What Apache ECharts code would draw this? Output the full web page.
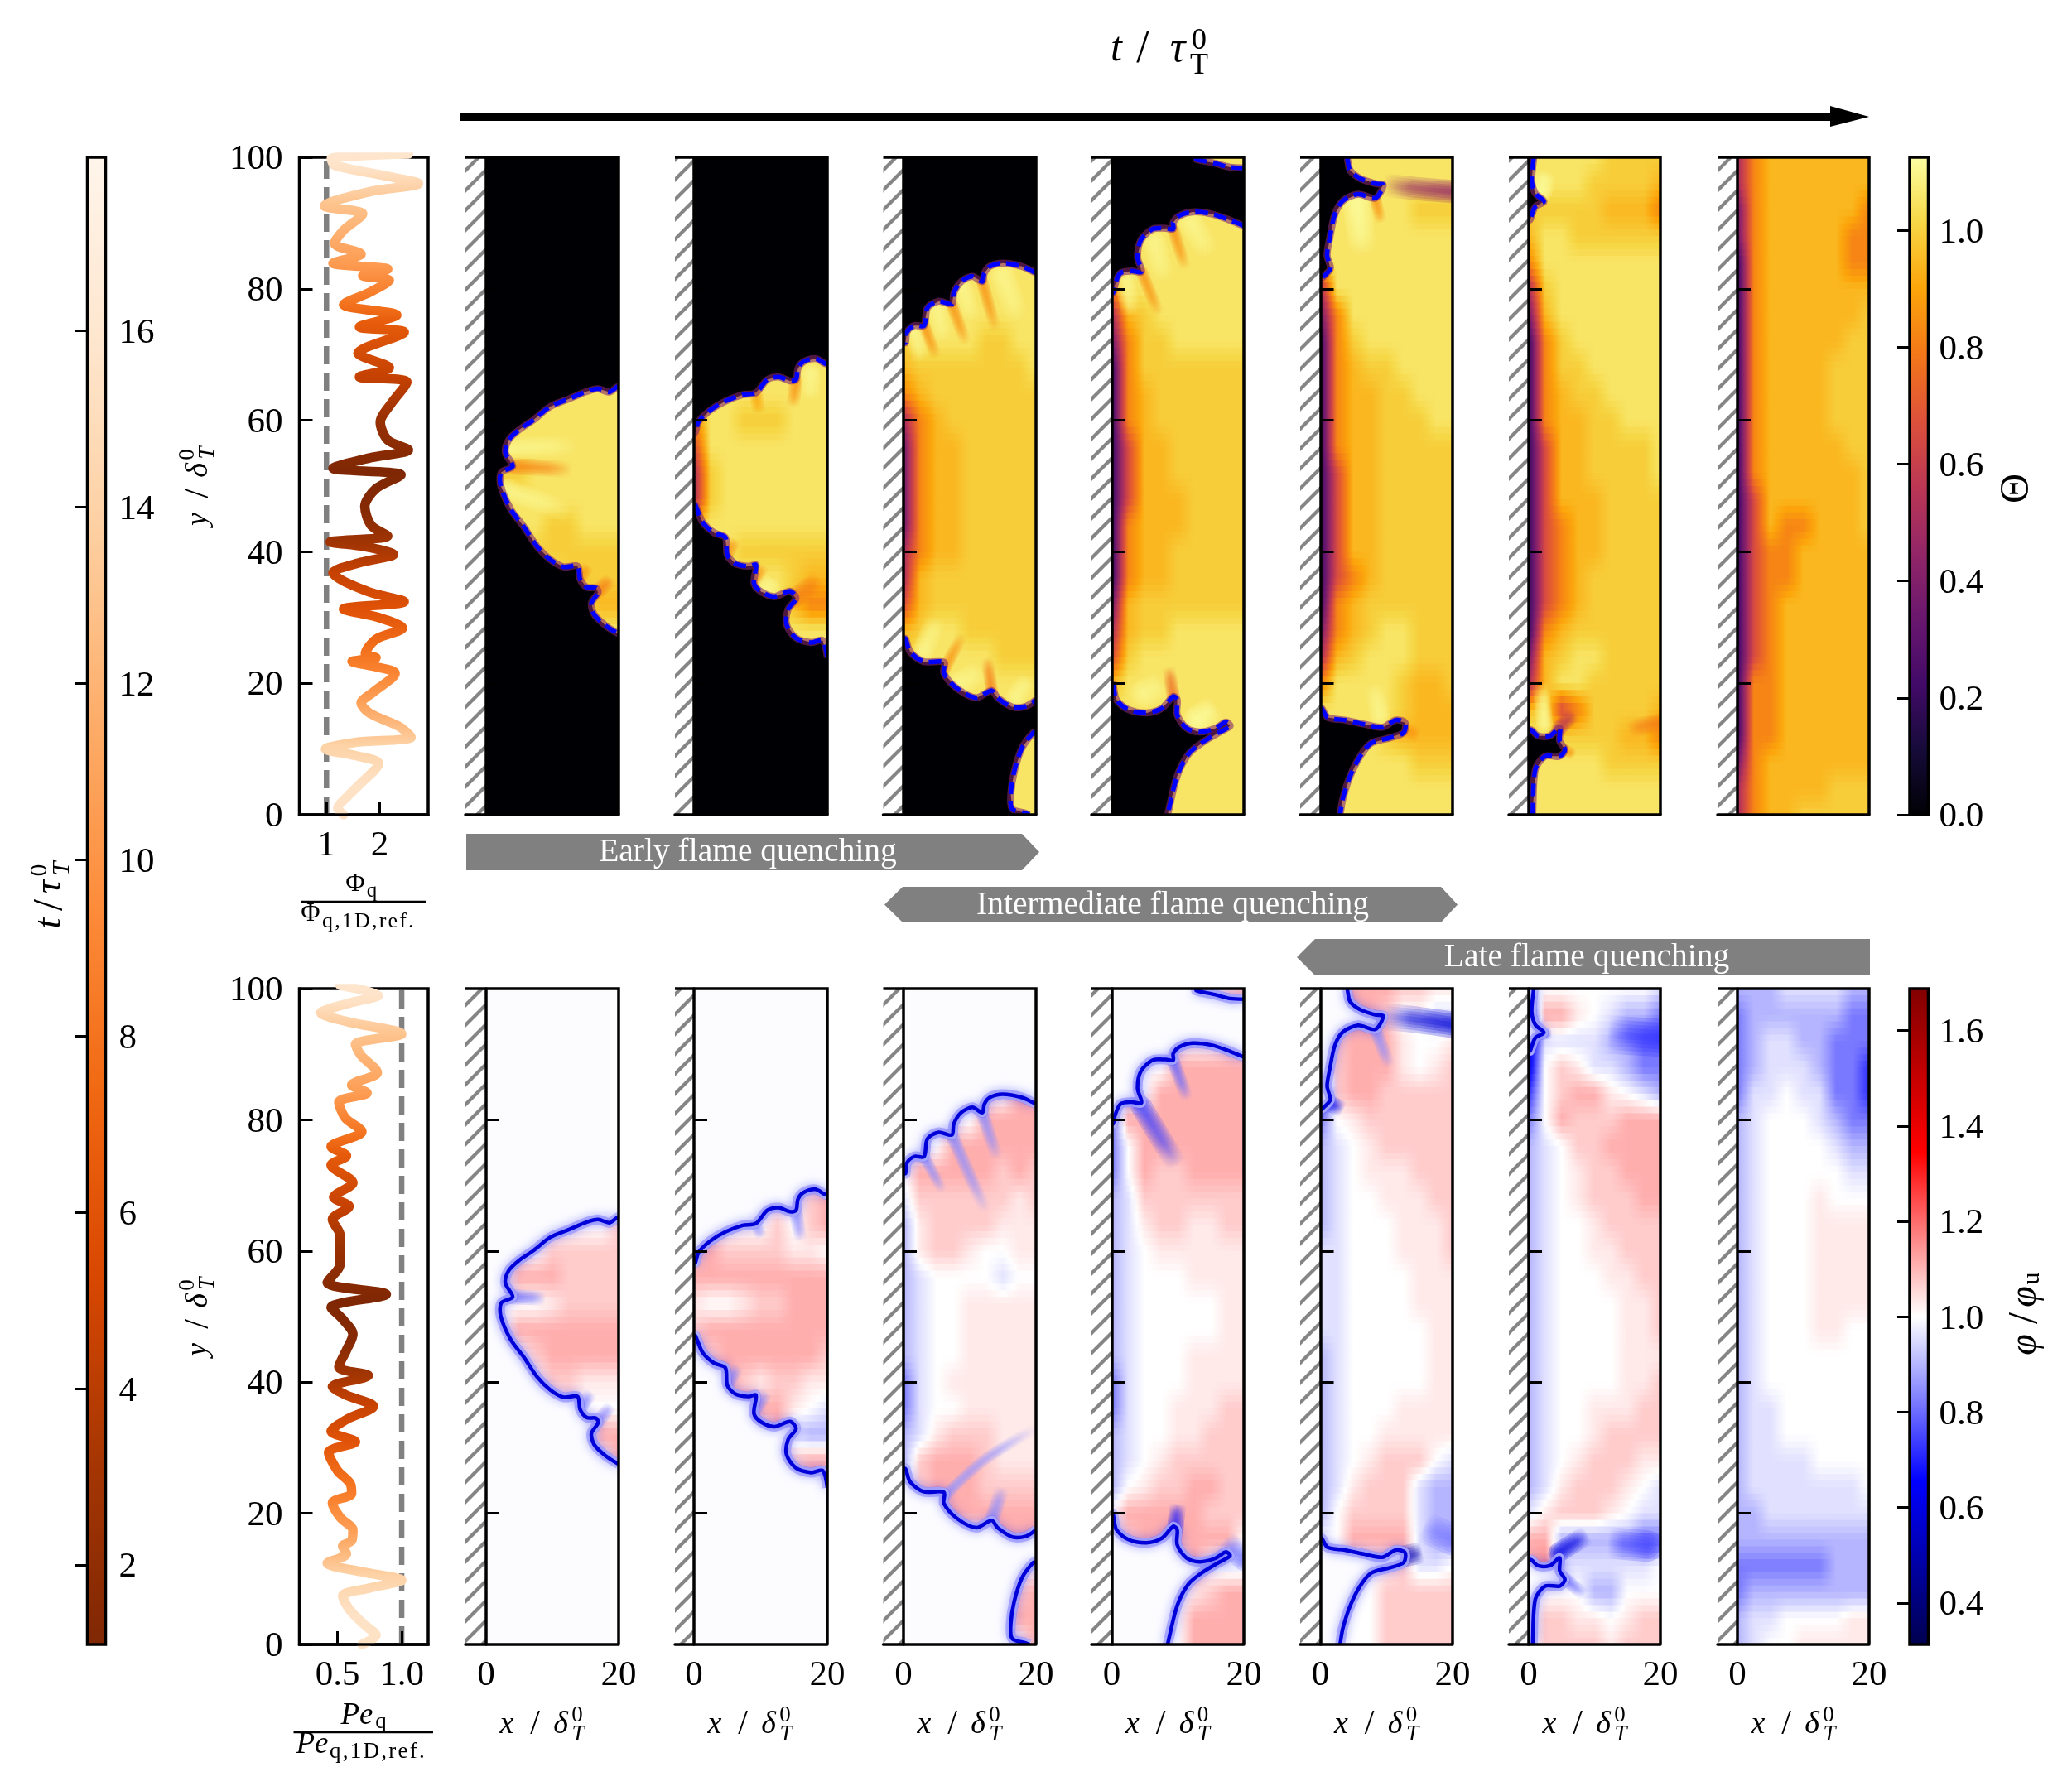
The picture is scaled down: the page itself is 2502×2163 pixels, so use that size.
<!DOCTYPE html>
<html>
<head>
<meta charset="utf-8">
<title>Flame quenching</title>
<script src="https://cdn.jsdelivr.net/npm/echarts@6/dist/echarts.min.js"></script>
<style>
    html, body { margin: 0; padding: 0; background: #fff; }
    #chart { width: 2502px; height: 2163px; }
</style>
</head>
<body>
<div id="chart"></div>
<script>
// wall heat flux ratio and Peclet ratio along the wall
var phiRatio = [1.32,1.21,1.37,1.62,1.98,1.54,0.98,1.54,2.59,2.37,1.82,1.65,1.87,2.29,1.87,1.48,1.93,1.73,1.93,2.43,1.98,1.32,2.46,1.76,1.12,1.65,2.26,1.71,1.07,2.15,1.84,1.72,1.93,2.40,1.12,1.82,2.54,2.15,2.01,2.21,2.51,1.62,2.18,1.59,2.46,1.62,2.32,1.32,1.82,2.18,1.68,2.15,1.12,1.65,1.15,1.32,1.68,0.96,1.82,2.73,2.09,1.15,1.09,2.54];
var phiY = [0,1.0,2.6,4.6,7.8,9.0,10.0,11.0,11.8,13.4,15.4,17.0,18.6,21.5,22.6,23.3,23.9,24.5,26.7,28.4,30.0,31.3,32.4,34.0,36.8,38.4,39.6,40.8,41.5,42.4,44.0,46.9,49.6,51.7,52.7,54.3,55.5,57.0,59.7,62.5,65.8,66.6,68.0,70.2,73.4,74.2,76.0,77.6,79.5,81.3,82.0,83.0,83.9,85.3,86.9,88.9,91.4,92.6,94.8,96.0,97.2,98.8,99.8,100.5];
var peRatio = [0.69,0.80,0.71,0.59,0.54,0.75,1.00,0.71,0.42,0.57,0.54,0.61,0.62,0.52,0.46,0.61,0.60,0.50,0.43,0.64,0.45,0.57,0.78,0.57,0.46,0.74,0.51,0.57,0.62,0.54,0.45,0.88,0.42,0.52,0.52,0.46,0.59,0.47,0.62,0.45,0.57,0.45,0.69,0.56,0.51,0.73,0.61,0.81,0.68,0.64,1.00,0.57,0.37,0.59,0.82,0.52];
var peY = [0,1.4,3,5.4,7.4,8.6,9.8,11,12.4,13.8,15,15.8,17.4,19.4,21.6,23,24.5,26.5,29.3,30.9,32.5,34.3,36.3,38,39.3,41,42.3,44.9,47.3,49.6,51.4,53.4,55.2,58,62.4,64.8,66.8,68.2,70.4,73.1,74.5,75.9,78.2,80.3,82.7,84.1,85.3,87.2,89.9,91.5,93.1,95,96.3,97.8,99,100.5];
var quenchY = [0,5,11,17,22,25,31,37,41,46,52,60,66,74,77,83,92,97,100];
var quenchTime = [15.5,15.5,14,11,9,8,6,4.5,3,1.5,1.1,2.5,4.5,6.5,8,10.5,13,15.5,16];

// field rows run from y=100 down to y=0, columns from x=0 to x=20, digits index the level lists
var fieldX = [0,2.5,5,7.5,10,12.5,15,17.5,20];
var fieldY = [100,96,92,88,84,80,76,72,68,64,60,56,52,48,44,40,36,32,28,24,20,16,12,8,4,0];
var thetaLevels = [0,0.2,0.35,0.5,0.65,0.82,0.94,0.99,1.05,1.1];
var phiLevels = [0.6,0.72,0.82,0.9,0.96,1.0,1.03,1.07,1.11,1.16];

var theta1 = ['888888888','888888888','888888888','888888888','888888888','888888888','888888888','888888888','888888888','888888888','888888888','888888888','777888888','888888888','888877888','888777777','888887777','888887766','888888888','888888888','888888888','888888888','888888888','888888888','888888888','888888888'];
var theta2 = ['888888888','888888888','888888888','888888888','888888888','888888888','888888888','888888888','888888888','888888888','588777888','488888888','378888888','378888888','688888888','888777777','888888766','888888655','888888888','888888888','888888888','888888888','888888888','888888888','888888888','888888888'];
var theta3 = ['888888888','888888888','888888888','888888888','888888888','888888888','888888888','788887788','677777778','567777777','356777777','256677777','256677777','256677777','256677777','356677777','367777777','467777777','678877777','788888777','888888888','888888888','888888888','888888888','888888888','888888888'];
var theta4 = ['888888888','888888888','888888888','888888888','888888888','588888888','367888888','257788888','157777777','156777777','156777777','146677777','146677777','146667777','156667777','156677777','156677777','267777777','367788888','478888888','688888888','888888888','888888888','888888888','888888888','888888888'];
var theta5 = ['888888888','888888888','888888777','888888888','888888888','388888888','258888888','157888888','156778888','156677888','156677788','156677777','146677777','146677777','146677777','146677777','145677777','156777777','256788777','367888777','588887667','888887666','888876666','888888777','888888888','888888888'];
var theta6 = ['888887777','888877776','777776665','688777777','588888888','378888888','268888888','157888888','157788888','156778888','156677888','146677778','146677778','146667777','145667777','145667777','145677777','145677777','156777777','267887777','368877777','684577776','887777665','888887777','888888888','888888888'];
var theta7 = ['356666666','356666666','256666665','256666655','156666655','156666666','156666667','156666677','156666777','156666777','156666777','156666677','156666667','146666667','146556667','145566666','145566666','145666666','145666666','145666666','155666666','155666666','155666666','256666666','356666777','356677777'];

var phi1 = ['555555555','555555555','555555555','555555555','555555555','555555555','555555555','555555555','555555555','555555557','555577777','558887777','555567777','558888888','555788888','555577666','555556555','555555588','555555558','555555555','555555555','555555555','555555555','555555555','555555555','555555555'];
var phi2 = ['555555555','555555555','555555555','555555555','555555555','555555555','555555555','555555555','555555578','555557578','787777665','888888888','655677888','788888888','778888887','888767766','888888654','555558433','555555788','555555578','555555555','555555555','555555555','555555555','555555555','555555555'];
var phi3 = ['555555555','555555555','555555555','555555555','555555588','555558888','555888888','588888787','477777767','367777666','367765566','345555455','345566666','345566666','345566666','245666666','245566666','346777666','378887666','478887777','555888888','555555888','555555555','555555578','555555588','555555558'];
var phi4 = ['555555578','555555555','555555565','555588888','555888888','288888888','258888888','258778888','347777777','346776677','345666666','345556666','345555566','345555566','345556666','245556666','245566677','345566777','345677777','356778877','588888777','578888885','555558544','555556788','555558888','555558888'];
var phi5 = ['558887766','558875544','578886556','578886567','078877777','256777777','345677777','345666777','345566677','345556667','445556667','445555666','445555666','445555566','345555566','345555566','345556666','345566666','345677754','346777433','357777433','558888433','555567445','555577777','555577777','555577777'];
var phi6 = ['455555554','188654332','044443322','057644322','157886543','258777888','345778888','345677888','345677788','345567777','345566777','345556677','345555667','345555667','345555666','345555667','345566677','345567777','345677766','346777654','467776544','883333322','894444445','455533555','477665677','477776777'];
var phi7 = ['333444433','233333322','234433222','234443221','244544221','345554322','345555433','345555544','345556555','345556666','345556666','345556666','345556666','345556655','345555555','345555555','344555555','344555555','344445555','344444445','334444444','333333333','222222333','233333333','344555566','345566666'];

// thin features of each field: value, stroke width in pixels, then x, y pairs from strong to faded end
var thetaRays1 = [[0.82,20,4,53,8,52.8,13,52.5],[1.1,26,3.5,55.5,8,56,14,56],[1.1,26,3,49.5,7,48,13,46],[0.85,16,14.2,36,15.5,38],[0.8,18,16.9,34,19,36]];
var thetaRays2 = [[0.85,16,15.3,66,14.8,62],[0.9,16,9.3,64,9.8,61],[0.85,16,5,39.5,6.2,42],[0.85,16,9,35.5,10.5,38],[0.8,24,15.3,33,19,36],[1.1,26,11,34.5,12,36],[1.1,24,17.5,67,17.5,63]];
var thetaRays3 = [[0.85,15,3.1,74.4,5,69.5],[0.85,15,7.3,77.7,9.5,71.5],[0.85,15,11.9,81,14,73.5],[0.85,15,6.1,22,9,27.5],[0.8,15,13.3,18.9,12.6,24],[1.1,22,1.5,73.5,2.8,69],[1.1,24,5,77,6.2,72],[1.1,24,9,80,10.4,75],[1.1,30,15,82,17.5,75],[1.1,26,3,25,5,30],[1.1,30,8.5,20,12,22],[1.1,24,17,18,19,21]];
var thetaRays4 = [[0.85,15,4.5,82.6,7.2,76],[0.85,15,9.3,89,11.2,83],[0.75,16,9.3,18,8.6,22.5],[1.1,24,2,81,3,76],[1.1,28,6.5,87,8,81],[1.1,30,12,90,15,85],[1.1,34,5,18.5,8,20],[1.12,34,13,14.5,16,16.5]];
var thetaRays5 = [[0.45,28,20,94.8,15,95.2,9.5,95.8],[0.85,14,8.3,93.8,9.2,90],[1.12,34,5.5,93,6.5,85],[0.85,18,12.6,13,15,12],[1.1,24,9,15,8,20],[1.05,28,9,3,16,2]];
var thetaRays6 = [[0.55,18,4.7,13.2,7,15.5],[0.8,22,20,14,15,13],[0.85,14,5.5,9.9,7,9],[1.12,26,2,95,2.5,98],[1.1,20,2.4,14,1.8,20]];
var thetaRays7 = [];
var phiRays1 = [[0.82,18,4,53,9,52.8],[0.85,16,14.2,36,16,38.5],[0.85,16,16.9,34,19,36.5]];
var phiRays2 = [[0.85,16,15.3,66,16,61.5],[0.88,14,9.3,64,10.2,62],[0.85,16,5,39.5,6.6,42.5],[0.85,16,9,35.5,11,38.5]];
var phiRays3 = [[0.85,14,3.1,74.4,6,69],[0.85,16,7.3,77.7,10,71.5,12.5,66],[0.85,16,11.9,81,14.2,74],[0.86,14,6.1,22.5,12,28,20,33],[0.85,18,13.3,18.9,15,24]];
var phiRays4 = [[0.75,26,4.5,82,7.5,77,10,73],[0.8,16,9.3,89,11.5,83],[0.7,20,9.6,17.5,10,21.5],[0.82,28,20,13,17,16]];
var phiRays5 = [[0.58,32,20,94.5,15,95.2,9.5,95.8],[0.85,16,8.3,93.8,10.5,88],[0.62,20,0.4,83,3.5,81.5],[0.5,26,12.5,13.4,15.5,14],[0.82,38,20,16,15.5,18]];
var phiRays6 = [[0.72,46,20,92.5,12,93],[0.6,14,0.8,93,3.5,93.2],[0.6,24,4.5,14,9,16.8],[0.75,38,18,15,12,15.5],[0.82,16,5.5,10,8.5,7.5]];
var phiRays7 = [];

// unburnt regions, closed rings in x, y units
var front1 = [[[20,65.1],[19.8,65.1],[18.6,64.3],[16.9,64.8],[15.2,64.4],[12.6,63.3],[9.7,62.1],[7.2,60.1],[4.9,58.5],[3.4,57.0],[2.9,55.1],[4.0,53.0],[2.3,52.1],[2.2,50.1],[3.7,46.5],[5.7,43.8],[7.7,40.8],[9.7,38.8],[11.7,37.7],[13.8,37.8],[14.2,35.8],[15.2,34.6],[16.6,34.5],[16.9,33.8],[15.9,32.2],[16.3,30.5],[18.0,28.8],[20,27.5],[20,0],[0,0],[0,100],[20,100]]];
var front2 = [
    [[20,68.6],[19.7,68.6],[18.2,69.4],[16.4,68.9],[15.6,67.9],[15.3,66.2],[14.4,66.0],[12.7,66.6],[11.0,66.2],[9.3,64.2],[7.3,63.9],[4.7,62.9],[2.4,61.5],[0.7,59.8],[0.2,58.2],[0,58.2],[0,100],[20,100]],
    [[0,47.1],[0.2,47.1],[1.3,44.5],[3.0,42.9],[4.7,42.2],[5.0,39.5],[6.2,38.2],[8.2,37.8],[9.3,38.0],[9.0,35.2],[10.1,33.9],[12.1,33.2],[14.4,34.0],[15.3,32.9],[14.1,31.2],[13.9,28.9],[15.3,26.9],[17.6,26.2],[19.3,26.5],[20,23.9],[20,0],[0,0]]
];
var front3 = [
    [[20,82.4],[19.6,82.6],[17.9,83.4],[15.0,83.9],[13.0,83.4],[12.2,82.4],[11.9,81.1],[10.4,81.9],[8.7,81.1],[7.6,79.4],[7.3,77.7],[5.3,78.1],[3.6,77.1],[3.1,74.4],[1.6,74.4],[0.5,73.4],[0.3,71.8],[0,71.8],[0,100],[20,100]],
    [[0,26.8],[0.3,26.8],[1.0,24.8],[3.0,23.3],[6.1,23.2],[6.1,21.5],[8.1,19.2],[11.0,17.8],[13.3,18.9],[14.2,17.8],[16.4,16.4],[18.5,16.5],[20,17.5],[20,12.5],[19.6,12.5],[17.9,10.2],[16.7,6.5],[16.2,3.2],[16.4,0.9],[18.5,0.2],[19,0],[0,0]]
];
var front4 = [
    [[0,100],[12.8,100],[12.8,99.7],[15.6,99.1],[17.9,98.5],[20,98.4],[20,89.7],[19.7,89.7],[18.0,90.4],[15.1,91.4],[12.2,91.7],[10.2,91.1],[9.3,90.1],[9.3,89.1],[8.2,89.2],[6.2,89.1],[4.4,87.4],[3.9,84.8],[4.5,82.6],[3.0,82.7],[1.3,82.4],[0.5,80.7],[0.2,79.4],[0,79.4]],
    [[0,19.8],[0.2,19.8],[0.7,17.5],[2.5,16],[5.3,15.5],[7.6,16.2],[9.3,18],[9.9,17.5],[9.9,15.2],[11.3,13.2],[13.3,12.6],[15.6,13.1],[17.3,14.1],[17.9,13.5],[16.2,12.5],[13.6,10.9],[11.6,9.2],[9.9,5.9],[8.5,0.2],[8.5,0],[0,0]]
];
var front5 = [
    [[4.1,100],[4.1,99.7],[4.5,98],[6,96.8],[8.3,96],[9.5,95.8],[8.3,93.8],[5.7,94.4],[3.4,93.4],[2.2,91.4],[1.4,87.7],[1,85.1],[1.5,83.1],[0.5,81.9],[0,81.5],[0,100]],
    [[0,16.2],[0.2,16.2],[1.1,14.8],[3.7,14.4],[6.5,13.8],[9.4,13.3],[11.4,14.4],[12.8,14],[12.6,12.5],[10.5,11.7],[7.7,10.9],[6,8.9],[4.5,5.9],[3.4,2.5],[3,0.2],[3,0],[0,0]]
];
var front6 = [
    [[0.75,100],[0.75,99.9],[0.45,96.5],[1,94.5],[2.3,93.3],[1,92.5],[0.2,90.5],[0,90.5],[0,100]],
    [[0,12.9],[0.4,12.9],[1.4,12],[3.2,12],[4.7,13.2],[4.7,11.2],[5.5,9.9],[4.7,8.9],[2.5,8.9],[1,6.9],[0.6,0.2],[0.6,0],[0,0]]
];
var front7 = [];

var thetaFields = [theta1, theta2, theta3, theta4, theta5, theta6, theta7];
var phiFields = [phi1, phi2, phi3, phi4, phi5, phi6, phi7];
var thetaRays = [thetaRays1, thetaRays2, thetaRays3, thetaRays4, thetaRays5, thetaRays6, thetaRays7];
var phiRays = [phiRays1, phiRays2, phiRays3, phiRays4, phiRays5, phiRays6, phiRays7];
var fronts = [front1, front2, front3, front4, front5, front6, front7];

var yTicks = [20, 40, 60, 80];
var thetaRange = [0, 1.125];
var phiRange = [0.313, 1.688];
var timeRange = [1.1, 17.97];

// colormaps
var inferno = ['#000004','#160b39','#420a68','#6a176e','#932667','#bc3754','#dd513a','#f37819','#fca50a','#f6d746','#fcffa4'];
var seismic = ['#00004d','#0000ff','#ffffff','#ff0000','#800000'];
var orangesR = ['#7f2704','#a63603','#d94801','#f16913','#fd8d3c','#fdae6b','#fdd0a2','#fee6ce','#fff5eb'];

// layout in page pixels
var wallLeft = [562, 815, 1066.5, 1318, 1570, 1822, 2074];
var zeroLeft = [587, 838, 1091, 1342.5, 1594.5, 1846, 2098];
var panelRight = [747, 999, 1251, 1502, 1754, 2005, 2257];
var rowTop = [190, 1194];
var rowBottom = [984, 1986];
var serif = '"Liberation Serif", "DejaVu Serif", serif';
var axisWidth = 3.5;

function hexToRgb(hex) {
    return [parseInt(hex.substr(1, 2), 16), parseInt(hex.substr(3, 2), 16), parseInt(hex.substr(5, 2), 16)];
}

function sampleRgb(map, u) {
    u = Math.max(0, Math.min(1, u));
    var pos = u * (map.length - 1);
    var i = Math.min(Math.floor(pos), map.length - 2);
    var f = pos - i;
    var a = hexToRgb(map[i]), b = hexToRgb(map[i + 1]);
    return [Math.round(a[0] + (b[0] - a[0]) * f), Math.round(a[1] + (b[1] - a[1]) * f), Math.round(a[2] + (b[2] - a[2]) * f)];
}

function sampleMap(map, u, alpha) {
    var c = sampleRgb(map, u);
    return 'rgba(' + c[0] + ',' + c[1] + ',' + c[2] + ',' + (alpha === undefined ? 1 : alpha) + ')';
}

function rowValues(row, levels) {
    return row.split('').map(function (c) { return levels[parseInt(c, 10)]; });
}

// shades one band between two read rows, blending colours the way an image does
function fieldRender(rows, levels, map, range) {
    return function (params, api) {
        var i = params.dataIndex;
        var upper = rowValues(rows[i], levels);
        var lower = rowValues(rows[i + 1], levels);
        var children = [];
        var steps = 4;
        for (var s = 0; s < steps; s++) {
            var f = (s + 0.5) / steps;
            var yTop = fieldY[i] + (fieldY[i + 1] - fieldY[i]) * s / steps;
            var yBot = fieldY[i] + (fieldY[i + 1] - fieldY[i]) * (s + 1) / steps;
            var a = api.coord([0, yTop]);
            var b = api.coord([20, yBot]);
            var stops = [];
            for (var c = 0; c < fieldX.length - 1; c++) {
                for (var k = 0; k < 4; k++) {
                    var g = k / 4;
                    var v = (upper[c] * (1 - g) + upper[c + 1] * g) * (1 - f) + (lower[c] * (1 - g) + lower[c + 1] * g) * f;
                    stops.push({ offset: (c + g) / (fieldX.length - 1), color: sampleMap(map, (v - range[0]) / (range[1] - range[0])) });
                }
            }
            var vEnd = upper[fieldX.length - 1] * (1 - f) + lower[fieldX.length - 1] * f;
            stops.push({ offset: 1, color: sampleMap(map, (vEnd - range[0]) / (range[1] - range[0])) });
            children.push({
                type: 'rect',
                shape: { x: a[0], y: a[1], width: b[0] - a[0], height: b[1] - a[1] + 1 },
                style: { fill: new echarts.graphic.LinearGradient(0, 0, 1, 0, stops) }
            });
        }
        return { type: 'group', children: children };
    };
}

// soft streak that fades along its length
function rayRender(rays, map, range) {
    return function (params, api) {
        var ray = rays[params.dataIndex];
        var u = (ray[0] - range[0]) / (range[1] - range[0]);
        var pts = [];
        for (var i = 2; i < ray.length; i += 2) {
            pts.push(api.coord([ray[i], ray[i + 1]]));
        }
        var start = pts[0], end = pts[pts.length - 1];
        var children = [1, 0.8, 0.6, 0.4, 0.2].map(function (w) {
            return {
                type: 'polyline',
                shape: { points: pts, smooth: 0.3 },
                style: {
                    fill: null, lineCap: 'round', lineJoin: 'round', lineWidth: ray[1] * w,
                    stroke: new echarts.graphic.LinearGradient(start[0], start[1], end[0], end[1], [
                        { offset: 0, color: sampleMap(map, u, 0.28) },
                        { offset: 0.6, color: sampleMap(map, u, 0.18) },
                        { offset: 1, color: sampleMap(map, u, 0) }
                    ], true)
                }
            };
        });
        return { type: 'group', children: children };
    };
}

function onBorder(p, q) {
    return (p[0] <= 0 && q[0] <= 0) || (p[0] >= 20 && q[0] >= 20) || (p[1] <= 0 && q[1] <= 0) || (p[1] >= 100 && q[1] >= 100);
}

function frontPieces(ring) {
    var pieces = [], cur = [];
    for (var i = 0; i < ring.length; i++) {
        var p = ring[i], q = ring[(i + 1) % ring.length];
        if (onBorder(p, q)) {
            if (cur.length) { cur.push(p); pieces.push(cur); cur = []; }
        } else {
            cur.push(p);
        }
    }
    if (cur.length) { pieces.push(cur); }
    return pieces;
}

function frontRender(rings, isTheta) {
    return function (params, api) {
        var ring = rings[params.dataIndex];
        var pts = ring.map(function (p) { return api.coord(p); });
        var children = [{
            type: 'polygon',
            shape: { points: pts },
            style: { fill: isTheta ? '#000004' : '#fcfcff' }
        }];
        frontPieces(ring).forEach(function (piece) {
            var line = piece.map(function (p) { return api.coord(p); });
            var shape = { points: line, smooth: 0.3 };
            if (isTheta) {
                children.push({ type: 'polyline', shape: shape, style: { stroke: 'rgba(130,40,110,0.6)', lineWidth: 8.5, fill: null, lineJoin: 'round' } });
                children.push({ type: 'polyline', shape: shape, style: { stroke: '#0000ff', lineWidth: 5.5, fill: null, lineDash: [15, 8] } });
            } else {
                children.push({ type: 'polyline', shape: shape, style: { stroke: 'rgba(255,255,255,0.9)', lineWidth: 11, fill: null, lineJoin: 'round' } });
                children.push({ type: 'polyline', shape: shape, style: { stroke: 'rgba(60,60,255,0.3)', lineWidth: 12, fill: null, lineJoin: 'round' } });
                children.push({ type: 'polyline', shape: shape, style: { stroke: '#0000d8', lineWidth: 4.5, fill: null, lineJoin: 'round', shadowBlur: 14, shadowColor: '#3030ff' } });
            }
        });
        return { type: 'group', children: children };
    };
}

var hatch = document.createElement('canvas');
hatch.width = 24;
hatch.height = 24;
(function () {
    var ctx = hatch.getContext('2d');
    ctx.strokeStyle = '#858585';
    ctx.lineWidth = 4.2;
    [-24, 0, 24].forEach(function (d) {
        ctx.beginPath();
        ctx.moveTo(d - 2, 26);
        ctx.lineTo(d + 26, -2);
        ctx.stroke();
    });
})();

var grids = [], xAxes = [], yAxes = [], series = [], elements = [];

function addGrid(left, top, right, bottom) {
    grids.push({ left: left, top: top, width: right - left, height: bottom - top, containLabel: false });
    return grids.length - 1;
}

// image panels
[0, 1].forEach(function (row) {
    var fields = row === 0 ? thetaFields : phiFields;
    var rays = row === 0 ? thetaRays : phiRays;
    var levels = row === 0 ? thetaLevels : phiLevels;
    var map = row === 0 ? inferno : seismic;
    var range = row === 0 ? thetaRange : phiRange;
    for (var p = 0; p < 7; p++) {
        (function (p) {
            var g = addGrid(wallLeft[p], rowTop[row], panelRight[p], rowBottom[row]);
            var unit = (panelRight[p] - zeroLeft[p]) / 20;
            var xMin = -(zeroLeft[p] - wallLeft[p]) / unit;
            xAxes.push({
                gridIndex: g, type: 'value', min: xMin, max: 20, z: 5,
                axisLine: { onZero: true, lineStyle: { color: '#000', width: axisWidth } },
                axisTick: { show: false },
                splitLine: { show: false },
                axisLabel: {
                    show: row === 1, customValues: [0, 20], margin: 16, color: '#000',
                    fontFamily: serif, fontSize: 43
                }
            });
            yAxes.push({
                gridIndex: g, type: 'value', min: 0, max: 100, z: 5,
                axisLine: { onZero: true, lineStyle: { color: '#000', width: axisWidth } },
                axisTick: { inside: true, length: 16, customValues: yTicks, lineStyle: { color: '#000', width: 3 } },
                splitLine: { show: false },
                axisLabel: { show: false }
            });
            series.push({
                type: 'custom', coordinateSystem: 'cartesian2d', xAxisIndex: g, yAxisIndex: g, z: 2, silent: true, clip: true,
                renderItem: fieldRender(fields[p], levels, map, range),
                data: fieldY.slice(1).map(function (y) { return [y]; })
            });
            if (rays[p].length) {
                series.push({
                    type: 'custom', coordinateSystem: 'cartesian2d', xAxisIndex: g, yAxisIndex: g, z: 2, silent: true, clip: true,
                    renderItem: rayRender(rays[p], map, range),
                    data: rays[p].map(function (r, i) { return [i]; })
                });
            }
            if (fronts[p].length) {
                series.push({
                    type: 'custom', coordinateSystem: 'cartesian2d', xAxisIndex: g, yAxisIndex: g, z: 3, silent: true, clip: true,
                    renderItem: frontRender(fronts[p], row === 0),
                    data: fronts[p].map(function (r, i) { return [i]; })
                });
            }
            series.push({
                type: 'custom', coordinateSystem: 'cartesian2d', xAxisIndex: g, yAxisIndex: g, z: 4, silent: true,
                renderItem: function (params, api) {
                    var a = api.coord([xMin, 100]), b = api.coord([0, 0]), c = api.coord([20, 100]), d = api.coord([20, 0]);
                    return {
                        type: 'group',
                        children: [
                            { type: 'rect', shape: { x: a[0], y: a[1], width: b[0] - a[0], height: b[1] - a[1] }, style: { fill: '#fff' } },
                            { type: 'rect', shape: { x: a[0], y: a[1], width: b[0] - a[0], height: b[1] - a[1] }, style: { fill: { image: hatch, repeat: 'repeat' } } },
                            { type: 'polyline', shape: { points: [a, c, d] }, style: { stroke: '#000', lineWidth: axisWidth, fill: null } }
                        ]
                    };
                },
                data: [[0]]
            });
        })(p);
    }
});

// profile axes
function addProfile(row, xVals, yVals, xMin, xMax, ticks, decimals) {
    var g = addGrid(361.5, rowTop[row], 517, rowBottom[row]);
    grids[g].show = true;
    grids[g].borderColor = '#000';
    grids[g].borderWidth = axisWidth;
    xAxes.push({
        gridIndex: g, type: 'value', min: xMin, max: xMax, z: 5,
        axisLine: { onZero: false, lineStyle: { color: '#000', width: axisWidth } },
        axisTick: { inside: true, length: 16, customValues: ticks, lineStyle: { color: '#000', width: 3 } },
        splitLine: { show: false },
        axisLabel: {
            customValues: ticks, margin: 16, color: '#000', fontFamily: serif, fontSize: 43,
            formatter: function (v) { return v.toFixed(decimals); }
        }
    });
    yAxes.push({
        gridIndex: g, type: 'value', min: 0, max: 100, interval: 20, z: 5,
        axisLine: { onZero: false, lineStyle: { color: '#000', width: axisWidth } },
        axisTick: { inside: true, length: 16, lineStyle: { color: '#000', width: 3 } },
        splitLine: { show: false },
        axisLabel: { margin: 20, color: '#000', fontFamily: serif, fontSize: 43, verticalAlign: 'top', lineHeight: 6 }
    });
    var stops = quenchY.map(function (y, i) {
        return {
            offset: 1 - y / 100,
            color: sampleMap(orangesR, (quenchTime[i] - timeRange[0]) / (timeRange[1] - timeRange[0]))
        };
    }).reverse();
    series.push({
        type: 'line', xAxisIndex: g, yAxisIndex: g, silent: true, symbol: 'none', z: 2,
        lineStyle: { color: '#808080', width: 6.5, type: [22, 10], cap: 'butt' },
        data: [[1, 0], [1, 100]]
    });
    series.push({
        type: 'line', xAxisIndex: g, yAxisIndex: g, silent: true, symbol: 'none', z: 3, smooth: 0.3,
        lineStyle: {
            width: 11.5, cap: 'round', join: 'round',
            color: { type: 'linear', x: 0, y: 0, x2: 0, y2: 1, colorStops: stops }
        },
        data: xVals.map(function (x, i) { return [x, yVals[i]]; })
    });
}
addProfile(0, phiRatio, phiY, 0.49, 2.91, [1, 2], 0);
addProfile(1, peRatio, peY, 0.203, 1.206, [0.5, 1.0], 1);

// colour bars
function addColorbar(left, right, top, bottom, range, map, ticks, decimals, labelMargin) {
    var g = addGrid(left, top, right, bottom);
    xAxes.push({ gridIndex: g, type: 'value', min: 0, max: 1, show: false });
    yAxes.push({
        gridIndex: g, type: 'value', min: range[0], max: range[1], position: 'right', z: 5,
        axisLine: { show: false },
        axisTick: { inside: true, length: 15, customValues: ticks, lineStyle: { color: '#000', width: 3 } },
        splitLine: { show: false },
        axisLabel: {
            customValues: ticks, margin: labelMargin, color: '#000', fontFamily: serif, fontSize: 43, verticalAlign: 'top', lineHeight: 6,
            formatter: function (v) { return v.toFixed(decimals); }
        }
    });
    var stops = map.map(function (c, i) { return { offset: 1 - i / (map.length - 1), color: c }; }).reverse();
    series.push({
        type: 'custom', coordinateSystem: 'cartesian2d', xAxisIndex: g, yAxisIndex: g, z: 2, silent: true,
        renderItem: function (params, api) {
            var a = api.coord([0, range[1]]), b = api.coord([1, range[0]]);
            return {
                type: 'rect',
                shape: { x: a[0], y: a[1], width: b[0] - a[0], height: b[1] - a[1] },
                style: { fill: new echarts.graphic.LinearGradient(0, 0, 0, 1, stops), stroke: '#000', lineWidth: axisWidth }
            };
        },
        data: [[0]]
    });
}
addColorbar(105.5, 127.5, 190, 1986, timeRange, orangesR, [2, 4, 6, 8, 10, 12, 14, 16], 0, 16);
addColorbar(2306, 2328.5, 190, 984, thetaRange, inferno, [0, 0.2, 0.4, 0.6, 0.8, 1.0], 1, 13);
addColorbar(2306, 2328.5, 1194, 1986, phiRange, seismic, [0.4, 0.6, 0.8, 1.0, 1.2, 1.4, 1.6], 1, 13);

// text made of pieces, so sub and superscripts can stack
function mathText(x, y, rotation, parts) {
    elements.push({
        type: 'group', x: x, y: y, rotation: rotation,
        children: parts.map(function (p) {
            return {
                type: 'text', x: p[1], y: p[2],
                style: {
                    text: p[0], fill: '#000', align: p[5] || 'center', verticalAlign: 'middle',
                    font: (p[4] ? 'italic ' : '') + p[3] + 'px ' + serif
                }
            };
        })
    });
}

var left90 = Math.PI / 2;
var refSub = 'q,1D,ref.'.split('').join('\u200A');
mathText(0, 0, 0, [
    ['t', 1348, 60, 50, true], ['/', 1380, 60, 56, false], ['\u03C4', 1422, 60, 52, true],
    ['0', 1448, 50, 36, false], ['T', 1448, 80, 36, false]
]);
mathText(61, 1093, left90, [
    ['t', -22, 0, 46, true], ['/', 0, 0, 50, false], ['\u03C4', 22, 0, 46, true], ['0', 42, -13, 30, false], ['T', 44, 14, 30, true]
]);
[587, 1590].forEach(function (mid) {
    mathText(240, mid, left90, [
        ['y', -40, 0, 36, true], ['/', -9, 0, 42, false], ['\u03B4', 19, 0, 38, true], ['0', 38, -13, 27, false], ['T', 40, 11, 27, true]
    ]);
});
for (var p = 0; p < 7; p++) {
    mathText(zeroLeft[p], 2083, 0, [
        ['x', 25, 0, 38, true], ['/', 59, 0, 42, false], ['\u03B4', 90, 0, 38, true], ['0', 110, -11, 27, false], ['T', 111, 12, 27, true]
    ]);
}
mathText(2436, 590, left90, [['\u0398', 0, 0, 50, false]]);
mathText(2446, 1590, left90, [
    ['\u03C6', -34, 0, 46, true], ['/', -2, 0, 50, false], ['\u03C6', 24, 0, 46, true], ['u', 46, 8, 30, false]
]);
mathText(0, 0, 0, [
    ['\u03A6', 429, 1068, 32, false], ['q', 449, 1076, 25, false],
    ['\u03A6', 375, 1104, 32, false], [refSub, 389, 1113, 26, false, 'left']
]);
mathText(0, 0, 0, [
    ['Pe', 431, 2072, 37, true], ['q', 460, 2080, 27, false],
    ['Pe', 377, 2107, 37, true], [refSub, 398, 2116, 27, false, 'left']
]);
[[364, 514, 1089], [354.5, 523, 2092]].forEach(function (l) {
    elements.push({ type: 'line', shape: { x1: l[0], y1: l[2], x2: l[1], y2: l[2] }, style: { stroke: '#000', lineWidth: 2.5 } });
});

// time arrow
elements.push({ type: 'polygon', shape: { points: [[555, 136], [2210, 136], [2210, 128], [2257, 141], [2210, 153], [2210, 146], [555, 146]] }, style: { fill: '#000' } });

// regime banners
var bannerShapes = [
    [[563, 1007], [1234, 1007], [1255, 1029], [1234, 1051], [563, 1051]],
    [[1068, 1092.5], [1090, 1071], [1740, 1071], [1760, 1092.5], [1740, 1114], [1090, 1114]],
    [[1566, 1156], [1588, 1134], [2258, 1134], [2258, 1178], [1588, 1178]]
];
var bannerLabels = ['Early flame quenching', 'Intermediate flame quenching', 'Late flame quenching'];
var bannerCentre = [[903, 1030], [1416, 1094], [1916, 1157]];
bannerShapes.forEach(function (pts, i) {
    elements.push({ type: 'polygon', shape: { points: pts }, style: { fill: '#808080' } });
    elements.push({
        type: 'text', x: bannerCentre[i][0], y: bannerCentre[i][1],
        style: { text: bannerLabels[i], fill: '#fff', align: 'center', verticalAlign: 'middle', font: '39.5px ' + serif }
    });
});

var chart = echarts.init(document.getElementById('chart'), null, { renderer: 'canvas', width: 2502, height: 2163 });
chart.setOption({
    animation: false,
    backgroundColor: '#fff',
    grid: grids,
    xAxis: xAxes,
    yAxis: yAxes,
    series: series,
    graphic: { elements: elements }
});
</script>
</body>
</html>
